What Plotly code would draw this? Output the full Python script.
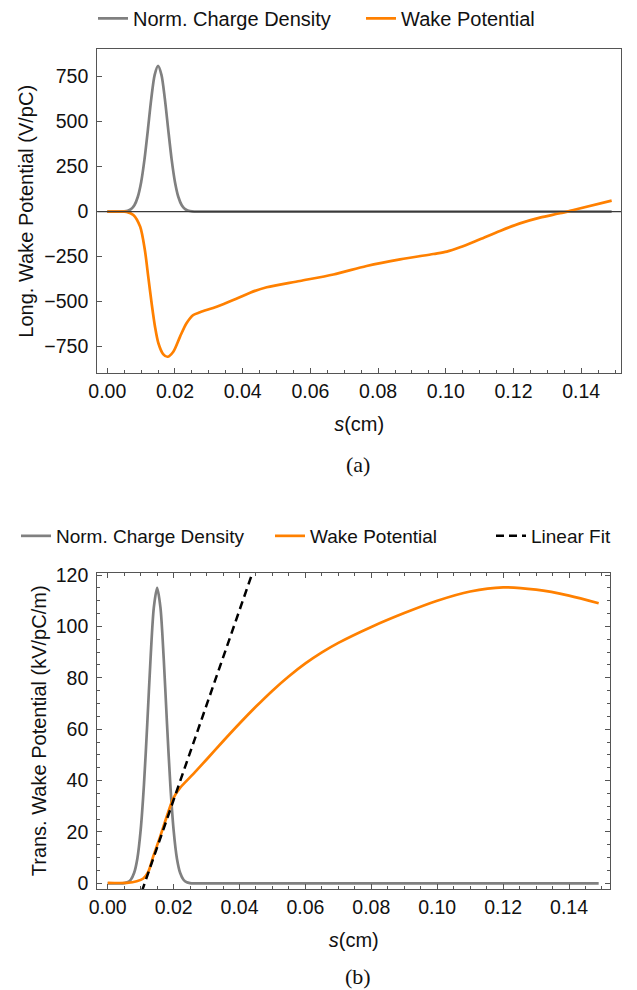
import plotly.graph_objects as go

# ---------------- data ----------------
# (a) longitudinal
s_density_a = [0.0, 0.003, 0.005, 0.006, 0.007, 0.008, 0.009, 0.010, 0.011, 0.012, 0.013,
               0.014, 0.015, 0.016, 0.017, 0.018, 0.019, 0.020, 0.021, 0.022, 0.023,
               0.024, 0.025, 0.027, 0.149]
density_a = [0.0, 0.1, 1.4, 4.6, 13.7, 35.6, 81.6, 164, 292, 456, 628,
             760, 810, 760, 628, 456, 292, 164, 81.6, 35.6, 13.7,
             4.6, 1.4, 0.1, 0.0]

s_wake_a = [0.0, 0.004, 0.0057, 0.0077, 0.0097, 0.0111, 0.0121, 0.0131, 0.0141, 0.0151,
            0.0165, 0.0178, 0.0195, 0.0215, 0.0234, 0.0254, 0.0274, 0.0323, 0.0372,
            0.0422, 0.0471, 0.0569, 0.0668, 0.0766, 0.0865, 0.0963, 0.1003, 0.1042,
            0.1101, 0.1160, 0.1219, 0.1278, 0.1337, 0.1377, 0.149]
wake_a = [0.0, -0.3, -1, -18, -83, -213, -361, -509, -639, -731,
          -791, -806, -778, -694, -620, -574, -559, -528, -491,
          -450, -420, -385, -349, -302, -265, -235, -222, -198,
          -153, -107, -65, -33, -9, 9, 61]

# (b) transverse
s_density_b = [0.0, 0.004, 0.005, 0.006, 0.007, 0.008, 0.009, 0.010, 0.011, 0.012, 0.013,
               0.014, 0.015, 0.016, 0.017, 0.018, 0.019, 0.020, 0.021, 0.022, 0.023,
               0.024, 0.025, 0.026, 0.149]
density_b = [0.0, 0.0, 0.1, 0.4, 1.4, 4.0, 9.7, 20.7, 38.4, 62.0, 87.4,
             107.4, 115.0, 107.4, 87.4, 62.0, 38.4, 20.7, 9.7, 4.0, 1.4,
             0.4, 0.1, 0.0, 0.0]

s_wake_b = [0.0, 0.0058, 0.0088, 0.0108, 0.0123, 0.0138, 0.0159, 0.0179, 0.0199, 0.022,
            0.026, 0.030, 0.035, 0.040, 0.045, 0.050, 0.055, 0.060, 0.065, 0.070,
            0.080, 0.090, 0.100, 0.110, 0.120, 0.130, 0.140, 0.149]
wake_b = [0.2, 0.2, 0.8, 1.9, 4.5, 10.4, 18.1, 25.9, 33.1, 37.2,
          42.6, 48.2, 55.3, 62.2, 68.8, 75.0, 80.6, 85.6, 89.9, 93.6,
          99.8, 105.2, 110.0, 113.6, 115.2, 114.3, 112.0, 109.0]

fit_slope = 3693.0      # kV/pC/m per cm
fit_intercept = -41.4   # kV/pC/m
fit_s = [0.0, 0.05]

x_tick_vals = [0.00, 0.02, 0.04, 0.06, 0.08, 0.10, 0.12, 0.14]
y_tick_vals_a = [-750, -500, -250, 0, 250, 500, 750]
y_tick_vals_b = [0, 20, 40, 60, 80, 100, 120]

# ---------------- styling ----------------
GRAY = "#808080"
ORANGE = "#FF8000"
FRAME = "#555555"
FONT = "Liberation Sans, Arial, sans-serif"
SERIF = "Liberation Serif, Times New Roman, serif"
W, H = 637, 990

fig = go.Figure()

fig.add_trace(go.Scatter(x=s_density_a, y=density_a, mode="lines", name="Norm. Charge Density",
                         line=dict(color=GRAY, width=2.7, shape="spline", smoothing=0.8),
                         xaxis="x", yaxis="y", legend="legend"))
fig.add_trace(go.Scatter(x=s_wake_a, y=wake_a, mode="lines", name="Wake Potential",
                         line=dict(color=ORANGE, width=2.7, shape="spline", smoothing=0.8),
                         xaxis="x", yaxis="y", legend="legend2"))

fig.add_trace(go.Scatter(x=s_density_b, y=density_b, mode="lines", name="Norm. Charge Density",
                         line=dict(color=GRAY, width=2.7, shape="spline", smoothing=0.8),
                         xaxis="x2", yaxis="y2", legend="legend3"))
fig.add_trace(go.Scatter(x=s_wake_b, y=wake_b, mode="lines", name="Wake Potential",
                         line=dict(color=ORANGE, width=2.7, shape="spline", smoothing=0.8),
                         xaxis="x2", yaxis="y2", legend="legend4"))
fig.add_trace(go.Scatter(x=fit_s, y=[fit_slope * s + fit_intercept for s in fit_s],
                         mode="lines", name="Linear Fit",
                         line=dict(color="black", width=2.5, dash="8px,5px"),
                         xaxis="x2", yaxis="y2", legend="legend5"))


def px_x(p):
    return p / W


def px_y(p):
    return 1 - p / H


common_axis = dict(showline=True, linecolor=FRAME, linewidth=1.2, ticks="inside",
                   tickcolor=FRAME, tickwidth=1, showgrid=False, zeroline=False,
                   automargin=False,
                   tickfont=dict(family=FONT, size=19.5, color="#111"),
                   title_font=dict(family=FONT, size=20, color="#111"))


def legend_box(text_left_px, center_y_px, size):
    return dict(x=px_x(text_left_px - 41), y=px_y(center_y_px), xanchor="left",
                yanchor="middle", orientation="h", bgcolor="rgba(0,0,0,0)",
                borderwidth=0, font=dict(family=FONT, size=size, color="#111"))


fig.update_layout(
    width=W, height=H, autosize=False,
    margin=dict(l=0, r=0, t=0, b=0, autoexpand=False),
    paper_bgcolor="white", plot_bgcolor="white",
    showlegend=True,
    xaxis=dict(common_axis, domain=[px_x(97.3), px_x(621)], anchor="y",
               range=[-0.00295, 0.15176], tickvals=x_tick_vals, tickformat=".2f",
               ticklen=5, mirror=True,
               minor=dict(dtick=0.005, tick0=0, ticks="inside", ticklen=3, tickcolor=FRAME),
               title=dict(text="<i>s</i>(cm)", standoff=16)),
    yaxis=dict(common_axis, domain=[px_y(373.3), px_y(49.3)], anchor="x",
               range=[-898, 902], tickvals=y_tick_vals_a, ticklen=5, mirror=True,
               ticklabelstandoff=4,
               title=dict(text="Long. Wake Potential (V/pC)", standoff=5)),
    xaxis2=dict(common_axis, domain=[px_x(97.3), px_x(610.3)], anchor="y2",
                range=[-0.00316, 0.15253], tickvals=x_tick_vals, tickformat=".2f",
                ticklen=5, mirror="ticks",
                minor=dict(dtick=0.005, tick0=0, ticks="inside", ticklen=3, tickcolor=FRAME),
                title=dict(text="<i>s</i>(cm)", standoff=16)),
    yaxis2=dict(common_axis, domain=[px_y(889), px_y(572.7)], anchor="x2",
                range=[-2.2, 120.9], tickvals=y_tick_vals_b, ticklen=5, mirror="ticks",
                ticklabelstandoff=4,
                minor=dict(dtick=5, tick0=0, ticks="inside", ticklen=3, tickcolor=FRAME),
                title=dict(text="Trans. Wake Potential (kV/pC/m)", standoff=3)),
    legend=legend_box(134, 18.3, 20),
    legend2=legend_box(402, 18.3, 20),
    legend3=legend_box(57, 536, 19),
    legend4=legend_box(311, 536, 19),
    legend5=legend_box(532, 536, 19),
    shapes=[dict(type="line", xref="x domain", yref="y", x0=0, x1=1, y0=0, y1=0,
                 line=dict(color="#3a3a3a", width=1.2), layer="above")],
    annotations=[
        dict(text="(a)", xref="paper", yref="paper", x=px_x(358), y=px_y(464),
             xanchor="center", yanchor="middle", showarrow=False,
             font=dict(family=SERIF, size=22, color="#111")),
        dict(text="(b)", xref="paper", yref="paper", x=px_x(358), y=px_y(976),
             xanchor="center", yanchor="middle", showarrow=False,
             font=dict(family=SERIF, size=22, color="#111")),
    ],
)

fig.write_html("out.html")
